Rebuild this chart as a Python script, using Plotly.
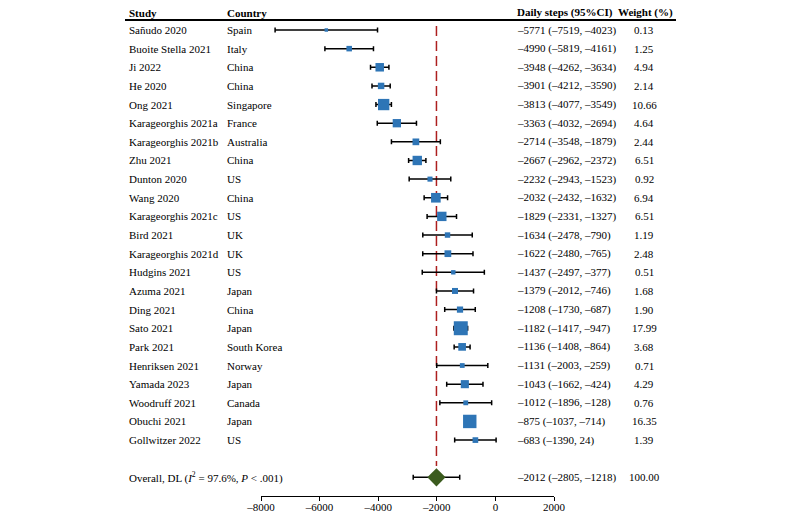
import plotly.graph_objects as go
import math

studies = ["Sañudo 2020", "Buoite Stella 2021", "Ji 2022", "He 2020", "Ong 2021",
           "Karageorghis 2021a", "Karageorghis 2021b", "Zhu 2021", "Dunton 2020", "Wang 2020",
           "Karageorghis 2021c", "Bird 2021", "Karageorghis 2021d", "Hudgins 2021", "Azuma 2021",
           "Ding 2021", "Sato 2021", "Park 2021", "Henriksen 2021", "Yamada 2023",
           "Woodruff 2021", "Obuchi 2021", "Gollwitzer 2022"]
countries = ["Spain", "Italy", "China", "China", "Singapore", "France", "Australia", "China", "US",
             "China", "US", "UK", "UK", "US", "Japan", "China", "Japan", "South Korea", "Norway",
             "Japan", "Canada", "Japan", "US"]
est = [-5771, -4990, -3948, -3901, -3813, -3363, -2714, -2667, -2232, -2032, -1829, -1634, -1622,
       -1437, -1379, -1208, -1182, -1136, -1131, -1043, -1012, -875, -683]
lower = [-7519, -5819, -4262, -4212, -4077, -4032, -3548, -2962, -2943, -2432, -2331, -2478, -2480,
         -2497, -2012, -1730, -1417, -1408, -2003, -1662, -1896, -1037, -1390]
upper = [-4023, -4161, -3634, -3590, -3549, -2694, -1879, -2372, -1523, -1632, -1327, -790, -765,
         -377, -746, -687, -947, -864, -259, -424, -128, -714, 24]
weights = ["0.13", "1.25", "4.94", "2.14", "10.66", "4.64", "2.44", "6.51", "0.92", "6.94", "6.51",
           "1.19", "2.48", "0.51", "1.68", "1.90", "17.99", "3.68", "0.71", "4.29", "0.76", "16.35", "1.39"]

overall_label = "Overall, DL (<i>I</i><sup>2</sup> = 97.6%, <i>P</i> &lt; .001)"
overall_est, overall_lower, overall_upper, overall_weight = -2012, -2805, -1218, "100.00"

xticks = [-8000, -6000, -4000, -2000, 0, 2000]
xticktext = ["–8000", "–6000", "–4000", "–2000", "0", "2000"]

FONT = "Liberation Serif, Times New Roman, serif"
W, H = 800, 519
ROW0_PX, ROW_PX = 30.0, 18.64
AXIS_PX = 496

def ypos(px):
    return (px - ROW0_PX) / ROW_PX

n = len(studies)
rows = list(range(n))
overall_row = n + 1

def fmt(v):
    return ("–" + str(abs(v))) if v < 0 else str(v)

fig = go.Figure()

# study estimates
sizes = [2.5 + 2.7 * math.sqrt(float(w)) for w in weights]
fig.add_trace(go.Scatter(
    x=est, y=rows, mode="markers",
    marker=dict(symbol="square", size=sizes, color="#2E75B6", opacity=1, line=dict(width=0)),
    error_x=dict(type="data", symmetric=False,
                 array=[u - e for u, e in zip(upper, est)],
                 arrayminus=[e - l for e, l in zip(est, lower)],
                 color="black", thickness=1.5, width=2.5),
    hoverinfo="skip", showlegend=False))

# overall diamond
fig.add_trace(go.Scatter(
    x=[overall_est], y=[overall_row], mode="markers",
    marker=dict(symbol="diamond", size=14, color="#3B5B1E", opacity=1, line=dict(width=0)),
    error_x=dict(type="data", symmetric=False,
                 array=[overall_upper - overall_est],
                 arrayminus=[overall_est - overall_lower],
                 color="black", thickness=1.5, width=2.5),
    hoverinfo="skip", showlegend=False))

# red dashed reference line at overall estimate
fig.add_shape(type="line", xref="x", yref="y", x0=overall_est, x1=overall_est,
              y0=ypos(26), y1=ypos(466), line=dict(color="#AD1F1F", width=1.5, dash="10px,5px"),
              layer="below")

# header line
fig.add_shape(type="line", xref="paper", yref="y", x0=125 / W, x1=676 / W,
              y0=ypos(20), y1=ypos(20), line=dict(color="black", width=2))

ann = []
hdr_y = ypos(12.5)
def add_text(x_px, y, text, anchor="left", bold=False):
    ann.append(dict(x=x_px / W, y=y, xref="paper", yref="y", text=("<b>%s</b>" % text) if bold else text,
                    showarrow=False, xanchor=anchor, yanchor="middle",
                    font=dict(family=FONT, size=11, color="black")))

add_text(127, hdr_y, "Study", bold=True)
add_text(225, hdr_y, "Country", bold=True)
add_text(515, hdr_y, "Daily steps (95%CI)", bold=True)
add_text(645, hdr_y, "Weight (%)", anchor="center", bold=True)

for i in rows:
    add_text(127, i, studies[i])
    add_text(225, i, countries[i])
    add_text(515, i, "%s (%s, %s)" % (fmt(est[i]), fmt(lower[i]), fmt(upper[i])))
    add_text(644, i, weights[i], anchor="center")

add_text(127, overall_row, overall_label)
add_text(515, overall_row, "%s (%s, %s)" % (fmt(overall_est), fmt(overall_lower), fmt(overall_upper)))
add_text(644, overall_row, overall_weight, anchor="center")

fig.update_layout(
    width=W, height=H,
    margin=dict(l=0, r=0, t=0, b=0, pad=0, autoexpand=False),
    paper_bgcolor="white", plot_bgcolor="white",
    annotations=ann,
    font=dict(family=FONT, size=11, color="black"),
    xaxis=dict(domain=[261 / W, 554 / W], range=[-8000, 2000],
               tickvals=xticks, ticktext=xticktext,
               showgrid=False, zeroline=False, showline=True, linecolor="black", linewidth=1,
               ticks="outside", ticklen=4, tickcolor="black", tickwidth=1,
               ticklabelstandoff=-3,
               tickfont=dict(family=FONT, size=11, color="black")),
    yaxis=dict(domain=[(H - AXIS_PX) / H, 1], range=[ypos(AXIS_PX), ypos(0)],
               showgrid=False, zeroline=False, showline=False, showticklabels=False, ticks=""),
)

fig.write_html("out.html", config={"displayModeBar": False},
               post_script="document.body.style.margin='0px';document.body.style.overflow='hidden';")
